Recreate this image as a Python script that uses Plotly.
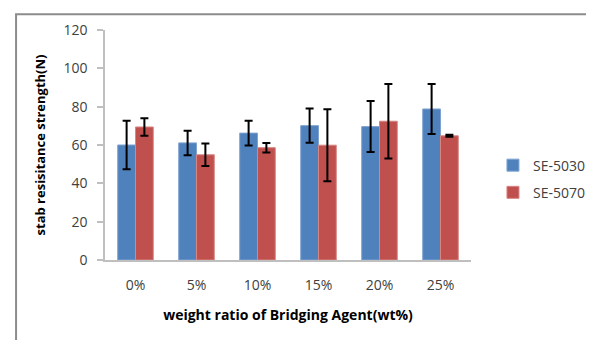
import plotly.graph_objects as go

categories = ["0%", "5%", "10%", "15%", "20%", "25%"]
se5030 = [60.0, 61.1, 66.2, 70.1, 69.6, 78.8]
se5030_err = [12.6, 6.4, 6.5, 8.9, 13.3, 13.0]
se5070 = [69.4, 54.9, 58.6, 59.9, 72.4, 64.8]
se5070_err = [4.6, 5.9, 2.5, 18.8, 19.4, 0.5]
y_ticks = [0, 20, 40, 60, 80, 100, 120]

font_fam = "Open Sans, Liberation Sans, sans-serif"
err_style = dict(type="data", color="black", thickness=2, width=4, visible=True)

fig = go.Figure()
fig.add_trace(go.Bar(
    x=categories, y=se5030, name="SE-5030", legendgroup="a",
    marker=dict(color="#4F81BD", line=dict(color="#7FA3D0", width=1)),
    error_y=dict(array=se5030_err, **err_style),
))
fig.add_trace(go.Bar(
    x=categories, y=se5070, name="SE-5070", legendgroup="b",
    marker=dict(color="#C0504D", line=dict(color="#D68683", width=1)),
    error_y=dict(array=se5070_err, **err_style),
))

fig.update_layout(
    width=594, height=340,
    margin=dict(l=97, r=106, t=17, b=88),
    paper_bgcolor="white", plot_bgcolor="white",
    barmode="group", bargap=0.417, bargroupgap=0,
    font=dict(family=font_fam, size=14, color="#404040"),
    showlegend=True,
    legend=dict(x=1.06, y=0.352, xanchor="left", yanchor="middle",
                font=dict(size=14, color="#404040"),
                traceorder="grouped", tracegroupgap=6,
                bgcolor="rgba(0,0,0,0)", itemwidth=30),
    xaxis=dict(
        showline=True, linecolor="#BFBFBF", linewidth=1.5,
        ticks="", tickfont=dict(size=14, color="#404040"),
        ticklabelstandoff=11,
        title=dict(text="<b>weight ratio of Bridging Agent(wt%)</b>",
                   font=dict(size=14, color="#000000"), standoff=18),
    ),
    yaxis=dict(
        range=[0, 120], tickvals=y_ticks,
        showline=True, linecolor="#BFBFBF", linewidth=1.5,
        ticks="outside", ticklen=6, tickcolor="#BFBFBF", tickwidth=1.5,
        showgrid=False, zeroline=False,
        tickfont=dict(size=14, color="#404040"),
        ticklabelstandoff=7,
        title=dict(text="<b>stab resisitance strength(N)</b>",
                   font=dict(size=13, color="#000000"), standoff=15),
    ),
    shapes=[dict(type="rect", xref="paper", yref="paper",
                 x0=-0.243, x1=1.4, y0=-0.6, y1=1.068,
                 line=dict(color="#8C8C8C", width=2), layer="below")],
)

fig.write_html("out.html")
